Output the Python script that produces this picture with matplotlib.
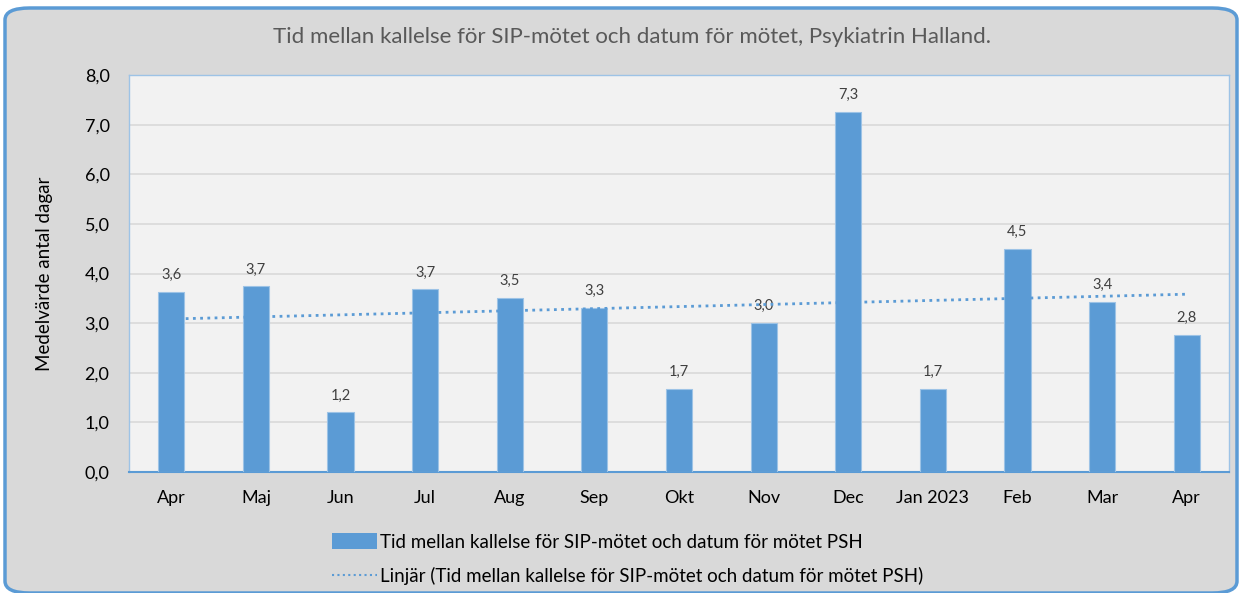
import numpy as np
import matplotlib.pyplot as plt
from matplotlib.patches import FancyBboxPatch
from matplotlib.lines import Line2D
from matplotlib.patches import Patch

months = ['Apr', 'Maj', 'Jun', 'Jul', 'Aug', 'Sep', 'Okt', 'Nov', 'Dec',
          'Jan 2023', 'Feb', 'Mar', 'Apr']
values = [3.63, 3.74, 1.20, 3.68, 3.50, 3.30, 1.67, 3.00, 7.26, 1.67, 4.50, 3.42, 2.76]
yticks = [0, 1, 2, 3, 4, 5, 6, 7, 8]

title = 'Tid mellan kallelse för SIP-mötet och datum för mötet, Psykiatrin Halland.'
series_name = 'Tid mellan kallelse för SIP-mötet och datum för mötet PSH'
trend_name = 'Linjär (Tid mellan kallelse för SIP-mötet och datum för mötet PSH)'

plt.rcParams['font.family'] = ['Lato', 'DejaVu Sans']

bar_color = '#5b9bd5'
text_color = '#404040'

W, H = 1239, 593
fig = plt.figure(figsize=(W / 100, H / 100), dpi=100)
fig.patch.set_facecolor('white')

# rounded outer frame, kept behind the axes
frame = FancyBboxPatch((5 / W, 1 - 593 / H), 1232 / W, 585 / H,
                       boxstyle='round,pad=0,rounding_size=0.02',
                       transform=fig.transFigure, facecolor='#d9d9d9',
                       edgecolor=bar_color, linewidth=2.5, zorder=-5)
fig.patches.append(frame)

ax = fig.add_axes([129 / W, 1 - 472 / H, (1229 - 129) / W, (472 - 75) / H])
ax.set_facecolor('#f2f2f2')

x = np.arange(len(months))
ax.bar(x, values, width=0.31, color=bar_color, edgecolor='#9dc3e6', linewidth=0.8, zorder=3)

for xi, v in zip(x, values):
    ax.text(xi, v + 0.2, f'{v:.1f}'.replace('.', ','), ha='center', va='bottom',
            fontsize=10.5, color=text_color, zorder=4)

# linear trendline (least squares, as Excel does)
k, m = np.polyfit(x, values, 1)
ax.plot(x, k * x + m, linestyle=(0, (1, 1.6)), color=bar_color, linewidth=2, zorder=4)

ax.set_xlim(-0.5, len(months) - 0.5)
ax.set_ylim(0, 8)
ax.set_yticks(yticks)
ax.set_yticklabels([f'{t:.1f}'.replace('.', ',') for t in yticks], fontsize=13, color='black')
ax.set_xticks(x)
ax.set_xticklabels(months, fontsize=13, color='black')
ax.tick_params(axis='y', length=0, pad=14)
ax.tick_params(axis='x', length=0, pad=13)
ax.yaxis.grid(True, color='#d9d9d9', linewidth=1.2, zorder=0)
ax.set_axisbelow(True)
for s in ['top', 'right', 'left']:
    ax.spines[s].set_color('#9dc3e6')
    ax.spines[s].set_linewidth(1)
ax.spines['bottom'].set_color(bar_color)
ax.spines['bottom'].set_linewidth(1.5)

ax.set_ylabel('Medelvärde antal dagar', fontsize=13.5, color='black', labelpad=23)

fig.text(0.51, 1 - 37 / H, title, ha='center', va='center', fontsize=16, color='#595959')

handles = [Patch(facecolor=bar_color, edgecolor='none'),
           Line2D([0], [0], linestyle=(0, (1, 1.6)), color=bar_color, linewidth=1.5)]
fig.legend(handles, [series_name, trend_name], loc='center',
           bbox_to_anchor=(628 / W, 1 - 559 / H), frameon=False, fontsize=13.5,
           handlelength=2.4, handleheight=0.9, handletextpad=0.15, labelspacing=0.85,
           alignment='left')

fig.savefig('out.png', dpi=100, facecolor=fig.get_facecolor())
